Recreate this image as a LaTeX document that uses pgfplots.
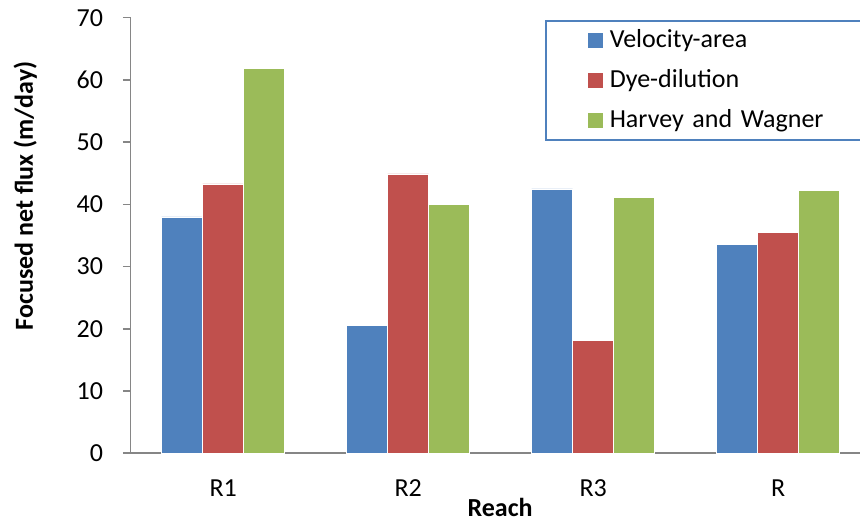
\documentclass[border=0pt]{standalone}
\usepackage{fontspec}
\setmainfont{Carlito}
\usepackage{pgfplots}
\pgfplotsset{compat=1.18}
\definecolor{cblue}{HTML}{4F81BD}
\definecolor{cred}{HTML}{C0504D}
\definecolor{cgreen}{HTML}{9BBB59}
\definecolor{caxis}{HTML}{868686}
\begin{document}
\begin{tikzpicture}
\path[use as bounding box] (-65.35pt,-34.85pt) rectangle (364.65pt,226.65pt);
\begin{axis}[
  at={(0,0)}, anchor=south west,
  scale only axis, width=364.7pt, height=217.8pt,
  xmin=-0.5, xmax=3.443, ymin=0, ymax=70,
  ybar=0pt, bar width=20.5pt,
  axis x line*=bottom, axis y line*=left,
  axis line style={caxis, line width=0.8pt, -},
  xtick={0,1,2,3}, xticklabels={R1,R2,R3,R},
  x tick style={draw=none},
  ytick={0,10,...,70},
  y tick style={caxis, line width=0.8pt},
  tick align=outside, major tick length=3.85pt,
  /pgf/number format/assume math mode=true,
  tick label style={font=\fontsize{13}{15}\selectfont},
  xticklabel style={yshift=-6pt},
  yticklabel style={xshift=-6.5pt},
  label style={font=\fontsize{13}{15}\selectfont\bfseries},
  ylabel={Focused net flux (m/day)},
  xlabel={Reach},
  ylabel style={at={(axis description cs:-0.1445,0.5907)}, anchor=center},
  xlabel style={at={(axis description cs:0.5064,0)}, yshift=-27pt, anchor=center},
  legend style={at={(rel axis cs:0.568,0.9947)}, anchor=north west,
    draw=cblue, line width=0.8pt, inner xsep=21pt, inner ysep=3pt,
    row sep=6.5pt, column sep=2pt,
    font=\fontsize{13}{15}\selectfont,
    nodes={text width=125pt, align=left, inner sep=1.5pt}},
  legend cell align=left,
  legend image code/.code={\fill[#1,draw=none] (0pt,-3.75pt) rectangle (7.5pt,3.75pt);},
]
\addplot[fill=cblue, draw=white, line width=0.3pt] coordinates {(0,38.0) (1,20.5) (2,42.5) (3,33.6)};
\addplot[fill=cred, draw=white, line width=0.3pt] coordinates {(0,43.3) (1,44.9) (2,18.2) (3,35.5)};
\addplot[fill=cgreen, draw=white, line width=0.3pt] coordinates {(0,61.8) (1,40.0) (2,41.1) (3,42.3)};
\legend{Velocity-area, Dye-dilution, Harvey and Wagner}
\end{axis}
\end{tikzpicture}
\end{document}
